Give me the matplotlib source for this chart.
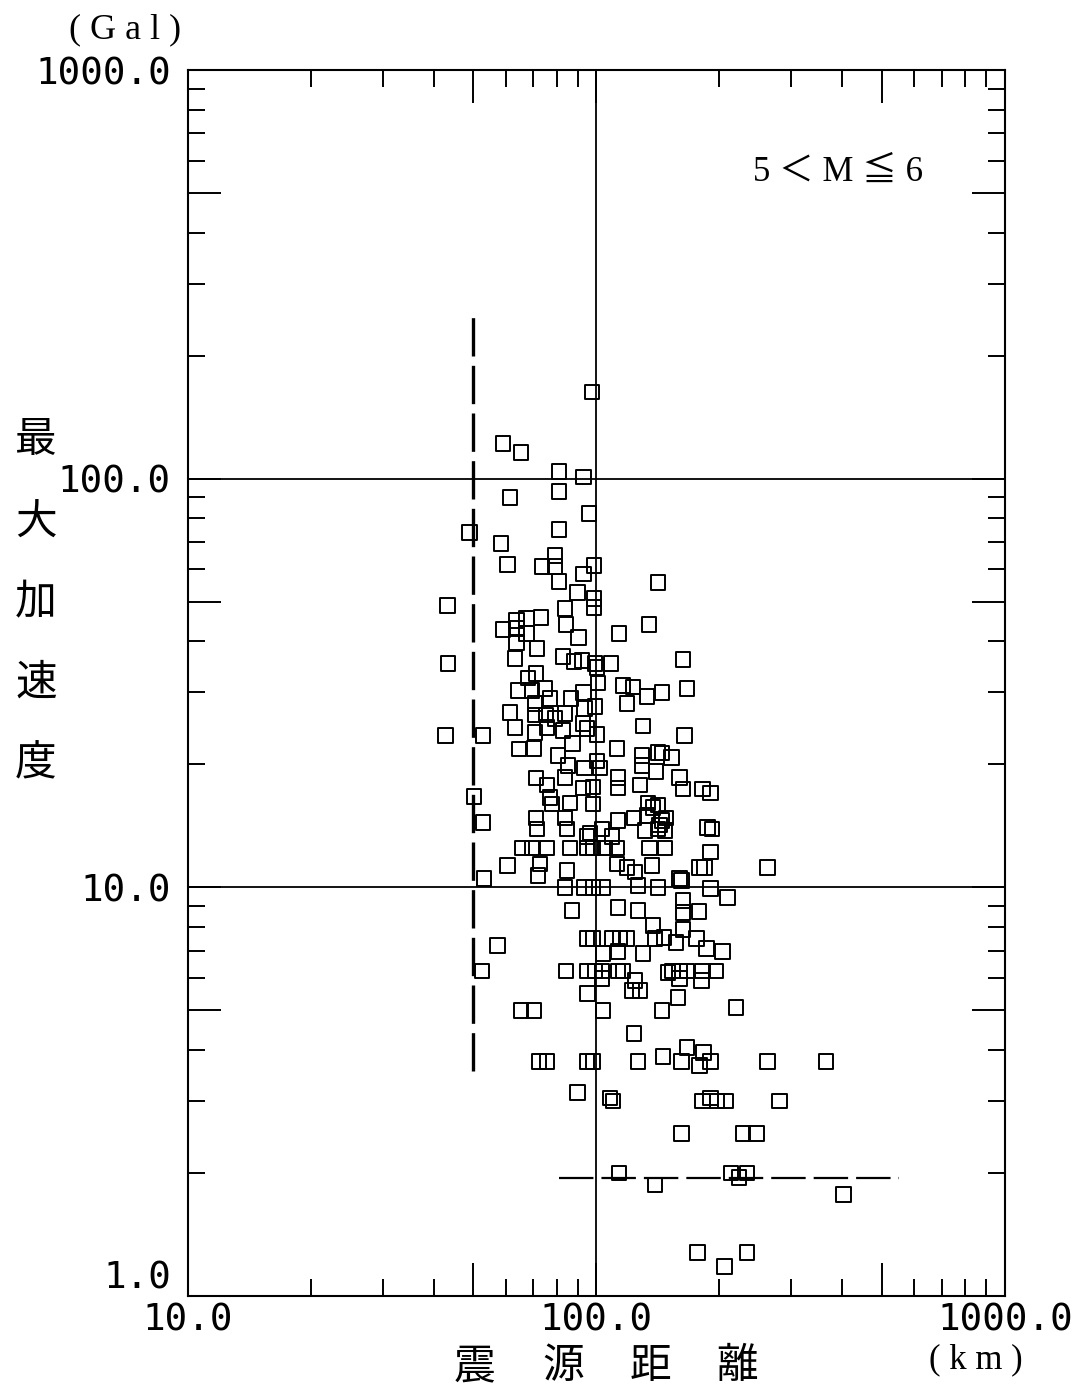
import matplotlib.pyplot as plt
from matplotlib.ticker import FixedLocator, FixedFormatter

# hypocentral distance (km) and peak acceleration (Gal) for 5 < M <= 6
dist_km = [
    97.6, 59.1, 65.4, 81.1, 93.2, 61.5, 81.1, 95.9, 48.9, 81.1,
    58.4, 60.6, 73.6, 79.2, 79.2, 98.7, 93.2, 81.1, 90.1, 98.7,
    98.7, 141.6, 43.2, 83.8, 63.9, 67.6, 73.2, 59.1, 63.9, 67.6,
    84.3, 90.6, 113.7, 134.6, 63.9, 71.6, 63.2, 82.9, 88.1, 92.2,
    99.2, 100.4, 108.6, 162.8, 43.4, 71.2, 68.0, 64.4, 69.6, 74.9,
    77.0, 86.7, 93.2, 100.9, 116.3, 123.1, 133.1, 144.7, 166.5, 119.0,
    61.5, 70.8, 70.8, 75.3, 83.8, 93.7, 99.2, 52.8, 42.7, 63.2,
    70.8, 75.7, 82.9, 87.6, 94.8, 100.4, 92.7, 79.2, 64.7, 70.4,
    80.6, 85.3, 93.7, 100.4, 102.0, 112.5, 71.2, 75.7, 83.8, 92.7,
    98.1, 113.1, 113.1, 128.0, 77.0, 77.9, 86.2, 98.1, 133.9, 137.6,
    71.2, 83.8, 113.1, 123.7, 133.1, 144.7, 71.6, 84.8, 96.5, 103.2,
    94.8, 109.3, 143.0, 147.1, 65.8, 69.6, 75.7, 86.2, 94.8, 98.1,
    105.0, 112.5, 135.0, 147.1, 60.6, 72.8, 72.0, 84.8, 112.5, 119.0,
    124.4, 137.0, 83.8, 93.7, 98.1, 103.8, 126.5, 141.6, 161.8, 190.0,
    130.2, 164.6, 129.4, 129.4, 141.6, 144.7, 153.0, 140.0, 160.0, 162.8,
    182.0, 190.0, 141.6, 148.0, 131.6, 141.6, 187.3, 190.0, 192.0, 179.0,
    184.2, 262.6, 160.0, 87.2, 113.1, 126.5, 162.8, 162.8, 178.4, 209.1,
    137.6, 139.2, 146.3, 162.8, 156.5, 175.6, 186.3, 203.3, 113.1, 130.2,
    103.8, 94.8, 98.1, 109.3, 114.3, 119.0, 84.3, 95.3, 99.2, 103.2,
    113.1, 116.3, 149.6, 153.8, 160.0, 166.5, 182.0, 196.5, 124.4, 122.4,
    128.0, 103.2, 160.0, 181.0, 95.3, 158.3, 103.8, 144.7, 219.8, 52.5,
    57.3, 65.4, 70.4, 72.4, 75.7, 94.8, 98.1, 126.5, 145.5, 161.8,
    166.5, 179.0, 183.0, 190.0, 262.6, 365.0, 123.7, 90.1, 108.0, 109.9,
    182.0, 190.0, 197.6, 206.8, 281.0, 161.8, 228.7, 246.4, 113.7, 213.8,
    234.0, 223.6, 139.2, 402.0, 177.0, 205.6, 234.0, 50.2, 52.8, 53.1,
]
pga_gal = [
    163.0, 122.0, 116.0, 104.0, 101.0, 90.0, 93.1, 82.3, 73.9, 75.2,
    69.5, 61.7, 61.0, 64.9, 61.0, 61.4, 58.4, 56.1, 52.7, 51.0,
    48.4, 55.8, 49.0, 48.2, 45.0, 45.5, 45.8, 42.8, 43.0, 41.8,
    44.0, 40.9, 41.8, 44.0, 39.7, 38.4, 36.3, 36.7, 35.7, 35.9,
    35.3, 34.5, 35.3, 36.1, 35.3, 33.4, 32.5, 30.3, 30.3, 30.7,
    29.0, 29.0, 30.0, 31.6, 31.2, 30.9, 29.3, 30.0, 30.7, 28.2,
    26.8, 28.2, 26.4, 26.4, 26.6, 27.4, 27.7, 23.5, 23.5, 24.6,
    23.9, 24.6, 24.2, 22.5, 24.5, 23.7, 25.2, 25.9, 21.8, 21.9,
    21.0, 19.9, 19.6, 20.4, 19.6, 21.9, 18.5, 17.8, 18.6, 17.5,
    17.6, 18.6, 17.5, 17.8, 16.6, 16.0, 16.1, 16.0, 16.1, 15.7,
    14.8, 14.8, 14.6, 14.8, 15.0, 14.6, 13.9, 13.9, 13.6, 13.9,
    13.3, 13.3, 14.2, 13.8, 12.5, 12.5, 12.5, 12.5, 12.5, 12.5,
    12.5, 12.5, 12.5, 12.5, 11.3, 11.4, 10.7, 11.0, 11.4, 11.2,
    10.9, 11.3, 10.0, 10.0, 10.0, 10.0, 10.1, 10.0, 10.4, 9.94,
    24.8, 23.5, 21.0, 19.9, 21.4, 21.3, 20.8, 19.2, 18.6, 17.4,
    17.4, 17.0, 15.9, 14.8, 13.8, 13.9, 14.0, 12.2, 13.9, 11.2,
    11.2, 11.2, 10.5, 8.78, 8.93, 8.78, 9.29, 8.69, 8.73, 9.45,
    8.07, 7.5, 7.55, 7.89, 7.34, 7.5, 7.09, 6.97, 6.97, 6.89,
    6.89, 7.5, 7.5, 7.5, 7.5, 7.5, 6.25, 6.25, 6.25, 6.25,
    6.25, 6.25, 6.2, 6.25, 6.25, 6.25, 6.25, 6.25, 5.92, 5.6,
    5.6, 5.99, 5.99, 5.92, 5.5, 5.38, 5.0, 5.0, 5.09, 6.25,
    7.2, 5.0, 5.0, 3.75, 3.75, 3.75, 3.75, 3.75, 3.86, 3.75,
    4.06, 3.67, 3.95, 3.75, 3.75, 3.75, 4.39, 3.15, 3.05, 3.0,
    3.0, 3.05, 3.0, 3.0, 3.0, 2.5, 2.5, 2.5, 2.0, 2.0,
    2.0, 1.95, 1.87, 1.77, 1.28, 1.18, 1.28, 16.7, 14.4, 10.5,
]

# dashed guide lines
near_dist = [50.0, 50.0]
near_pga = [3.55, 250.0]
floor_dist = [81.0, 550.0]
floor_pga = [1.95, 1.95]

x_ticks = [10, 50, 100, 500, 1000]
x_labels = ['10.0', '', '100.0', '', '1000.0']
y_ticks = [1, 5, 10, 50, 100, 500, 1000]
y_labels = ['1.0', '', '10.0', '', '100.0', '', '1000.0']
minor_ticks = [k * d for d in (1, 10, 100) for k in (2, 3, 4, 6, 7, 8, 9)]

plt.rcParams['font.family'] = ['DejaVu Sans Mono']
cjk = ['Noto Sans CJK JP', 'DejaVu Sans']
serif = ['Liberation Serif', 'Noto Sans CJK JP']

fig = plt.figure(figsize=(10.74, 13.93), dpi=100)
ax = fig.add_axes([0.1746, 0.0696, 0.7612, 0.8801])
ax.set_xscale('log')
ax.set_yscale('log')
ax.set_xlim(10, 1000)
ax.set_ylim(1, 1000)

ax.axvline(100, color='black', lw=1.3, zorder=1)
ax.axhline(10, color='black', lw=1.3, zorder=1)
ax.axhline(100, color='black', lw=1.3, zorder=1)

ax.plot(near_dist, near_pga, color='black', lw=2.4, dashes=(11.5, 2.8), zorder=2)
ax.plot(floor_dist, floor_pga, color='black', lw=1.6, dashes=(15.5, 3.6), zorder=2)

ax.scatter(dist_km, pga_gal, marker='s', s=110, facecolors='none',
           edgecolors='black', linewidths=1.4, zorder=3)

for axis, ticks, labels in ((ax.xaxis, x_ticks, x_labels), (ax.yaxis, y_ticks, y_labels)):
    axis.set_major_locator(FixedLocator(ticks))
    axis.set_major_formatter(FixedFormatter(labels))
    axis.set_minor_locator(FixedLocator([t for t in minor_ticks if t <= 1000]))
    axis.set_minor_formatter(FixedFormatter([]))

ax.tick_params(which='both', direction='in', top=True, right=True, width=1.4, colors='black')
ax.tick_params(which='major', length=24, labelsize=27)
ax.tick_params(which='minor', length=12)
ax.tick_params(axis='x', which='major', pad=5)
ax.tick_params(axis='y', which='major', pad=12)
for sp in ax.spines.values():
    sp.set_linewidth(1.5)

# keep the bottom y label clear of the first x label
ax.yaxis.get_major_ticks()[0].label1.set_verticalalignment('bottom')

ax.text(0.7957, 0.9168, '5 ＜ M ≦ 6', transform=ax.transAxes, ha='center', va='center',
        fontsize=25, family=serif)

fig.text(0.1164, 0.9785, '( G a l )', ha='center', va='center', fontsize=26, family=serif)
fig.text(0.9088, 0.0237, '( k m )', ha='center', va='center', fontsize=25, family=serif)

for ch, yf in zip('最大加速度', (0.6841, 0.6246, 0.5671, 0.5097, 0.4515)):
    fig.text(0.0335, yf, ch, ha='center', va='center', fontsize=30, family=cjk)
for ch, xf in zip('震源距離', (0.4413, 0.5242, 0.6052, 0.6862)):
    fig.text(xf, 0.0187, ch, ha='center', va='center', fontsize=30, family=cjk)

fig.savefig('out.png', dpi=100)
